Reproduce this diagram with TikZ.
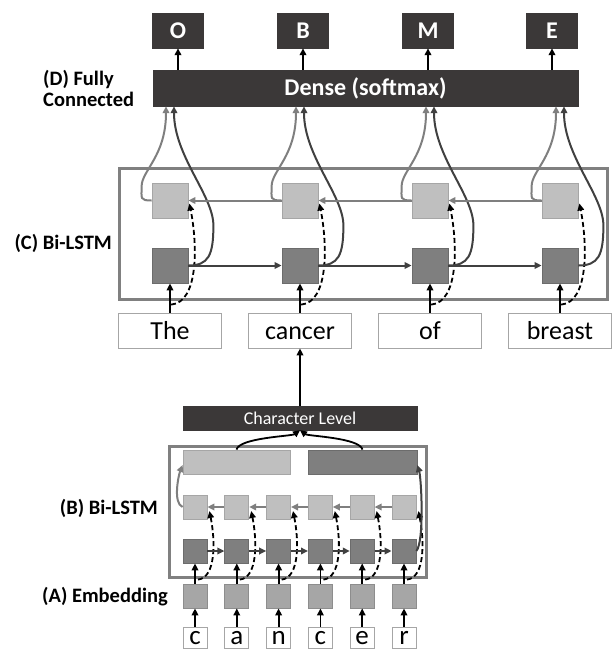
\documentclass[tikz,border=0pt]{standalone}
\usepackage{fontspec}
\setmainfont{Carlito}
\usetikzlibrary{arrows.meta,calc}

\definecolor{boxdark}{HTML}{3B3838}
\definecolor{celllight}{HTML}{BFBFBF}
\definecolor{celldark}{HTML}{7F7F7F}
\definecolor{cellemb}{HTML}{A6A6A6}
\definecolor{framegray}{HTML}{808080}
\definecolor{arrgray}{HTML}{7F7F7F}
\definecolor{arrdark}{HTML}{404040}

\newcommand\fsz[1]{\fontsize{#1}{21}\selectfont}

\tikzset{
  blackbox/.style={fill=boxdark, draw=boxdark, text=white, inner sep=0pt},
  cellbox/.style={inner sep=0pt, line width=0.8pt},
  lightcell/.style={cellbox, fill=celllight, draw=cellemb},
  darkcell/.style={cellbox, fill=celldark, draw=celldark!85!black},
  embcell/.style={cellbox, fill=cellemb, draw=cellemb!85!black},
  wordbox/.style={draw=cellemb, line width=0.8pt, fill=white, inner sep=0pt,
    minimum width=103pt, minimum height=35pt, text height=17pt, text depth=0pt,
    font=\fsz{26}},
  charbox/.style={draw=cellemb, line width=0.8pt, inner sep=0pt, minimum width=24pt,
    minimum height=21pt, text height=13pt, text depth=0pt, font=\fsz{27}},
  lbl/.style={font=\fsz{20.5}\bfseries, inner sep=0pt},
  framebox/.style={draw=framegray, line width=3pt},
  tip/.style={-{Triangle[length=7pt,width=6.5pt]}},
  blackarr/.style={tip, line width=1.8pt, black},
  grayarr/.style={tip, line width=2pt, arrgray},
  darkarr/.style={tip, line width=2pt, arrdark},
  dasharr/.style={tip, line width=1.8pt, black, dash pattern=on 5pt off 3pt}
}

\begin{document}
\begin{tikzpicture}[x=1pt,y=-1pt]
  \useasboundingbox (0,0) rectangle (611,651);

  % frames
  \draw[framebox] (119.5,168.5) rectangle (607.5,299);
  \draw[framebox] (169.5,446.5) rectangle (426.5,577.5);

  % (D) fully connected
  \node[blackbox, minimum width=425pt, minimum height=36pt, font=\fsz{24}\bfseries]
    (dense) at (365.5,88) {Dense (softmax)};
  \foreach \i/\ox/\tag in {1/178/O,2/303/B,3/428/M,4/552/E} {
    \node[blackbox, minimum width=51pt, minimum height=35pt, font=\fsz{24}\bfseries]
      (o\i) at (\ox,30.5) {\tag};
    \draw[blackarr] (o\i |- dense.north) -- (o\i.south);
  }

  % (C) word level Bi-LSTM
  \foreach \i/\cx/\word in {1/170/The,2/300/cancer,3/430/of,4/560/breast} {
    \node[wordbox] (w\i) at (\cx,330.5) {\word};
    \node[lightcell, minimum width=36pt, minimum height=35pt] (lc\i) at (\cx,200.5) {};
    \node[darkcell, minimum width=36pt, minimum height=35pt] (dc\i) at (\cx,265.5) {};
    \draw[blackarr] (w\i.north) -- (dc\i.south);
    \draw[dasharr] ($(w\i.north)+(1,-8)$) .. controls +(28,-2) and +(8,40) .. ($(lc\i.east)+(1,3)$);
    % outputs to dense
    \draw[grayarr] (lc\i.west) .. controls +(-12,0) and +(0,12) .. ++(-10,-14)
                              .. controls +(0,-16) and +(0,50) .. ($(lc\i |- dense.south)+(-4,0)$);
    \draw[darkarr] (dc\i.east) .. controls +(20,0) and +(0,30) .. ++(25,-40)
                              .. controls +(0,-30) and +(0,50) .. ($(dc\i |- dense.south)+(4,0)$);
  }
  \foreach \i/\j in {1/2,2/3,3/4} {
    \draw[darkarr] (dc\i.east) -- (dc\j.west);
    \draw[grayarr] (lc\j.west) -- (lc\i.east);
  }

  % (B) character level Bi-LSTM
  \node[blackbox, minimum width=234pt, minimum height=24pt, font=\fsz{18}]
    (charlvl) at (300,418) {Character Level};
  \node[lightcell, minimum width=107pt, minimum height=24pt] (lbar) at (236.5,462) {};
  \node[darkcell, minimum width=109pt, minimum height=24pt] (dbar) at (362.5,462) {};
  \draw[blackarr] (charlvl.north) -- (w2.south);
  \draw[blackarr] (lbar.north) .. controls +(3,-12) and +(-8,6) .. (charlvl.south);
  \draw[blackarr] (dbar.north) .. controls +(-3,-12) and +(8,6) .. (charlvl.south);

  \foreach \i/\ch in {1/c,2/a,3/n,4/c,5/e,6/r} {
    \pgfmathsetmacro\sx{153.2+41.8*\i}
    \node[lightcell, minimum width=24pt, minimum height=24pt] (sl\i) at (\sx,507) {};
    \node[darkcell, minimum width=24pt, minimum height=24pt] (sd\i) at (\sx,551) {};
    \node[embcell, minimum width=24pt, minimum height=24pt] (em\i) at (\sx,596) {};
    \node[charbox] (ch\i) at (\sx,637.5) {\ch};
    \draw[blackarr] (ch\i.north) -- (em\i.south);
    \draw[blackarr] (em\i.north) -- (sd\i.south);
    \draw[dasharr] ($(em\i.north)+(3,-4)$) .. controls +(18,-2) and +(6,30) .. ($(sl\i.east)+(2,4)$);
  }
  \foreach \i/\j in {1/2,2/3,3/4,4/5,5/6} {
    \draw[darkarr] (sd\i.east) -- (sd\j.west);
    \draw[grayarr] (sl\j.west) -- (sl\i.east);
  }
  \draw[grayarr] (sl1.west) .. controls +(-10,-4) and +(-4,10) .. ($(lbar.west)+(0,3)$);
  \draw[darkarr] (sd6.east) .. controls +(8,-10) and +(4,14) .. ($(dbar.east)+(0,3)$);

  % labels
  \node[lbl, align=left, anchor=west] (labD) at (43,88.5) {(D) Fully\\Connected};
  \node[lbl, anchor=east] (labC) at (112,243) {(C) Bi-LSTM};
  \node[lbl, anchor=east] (labB) at (158,508) {(B) Bi-LSTM};
  \node[lbl, anchor=east] (labA) at (168,597) {(A) Embedding};
\end{tikzpicture}
\end{document}
